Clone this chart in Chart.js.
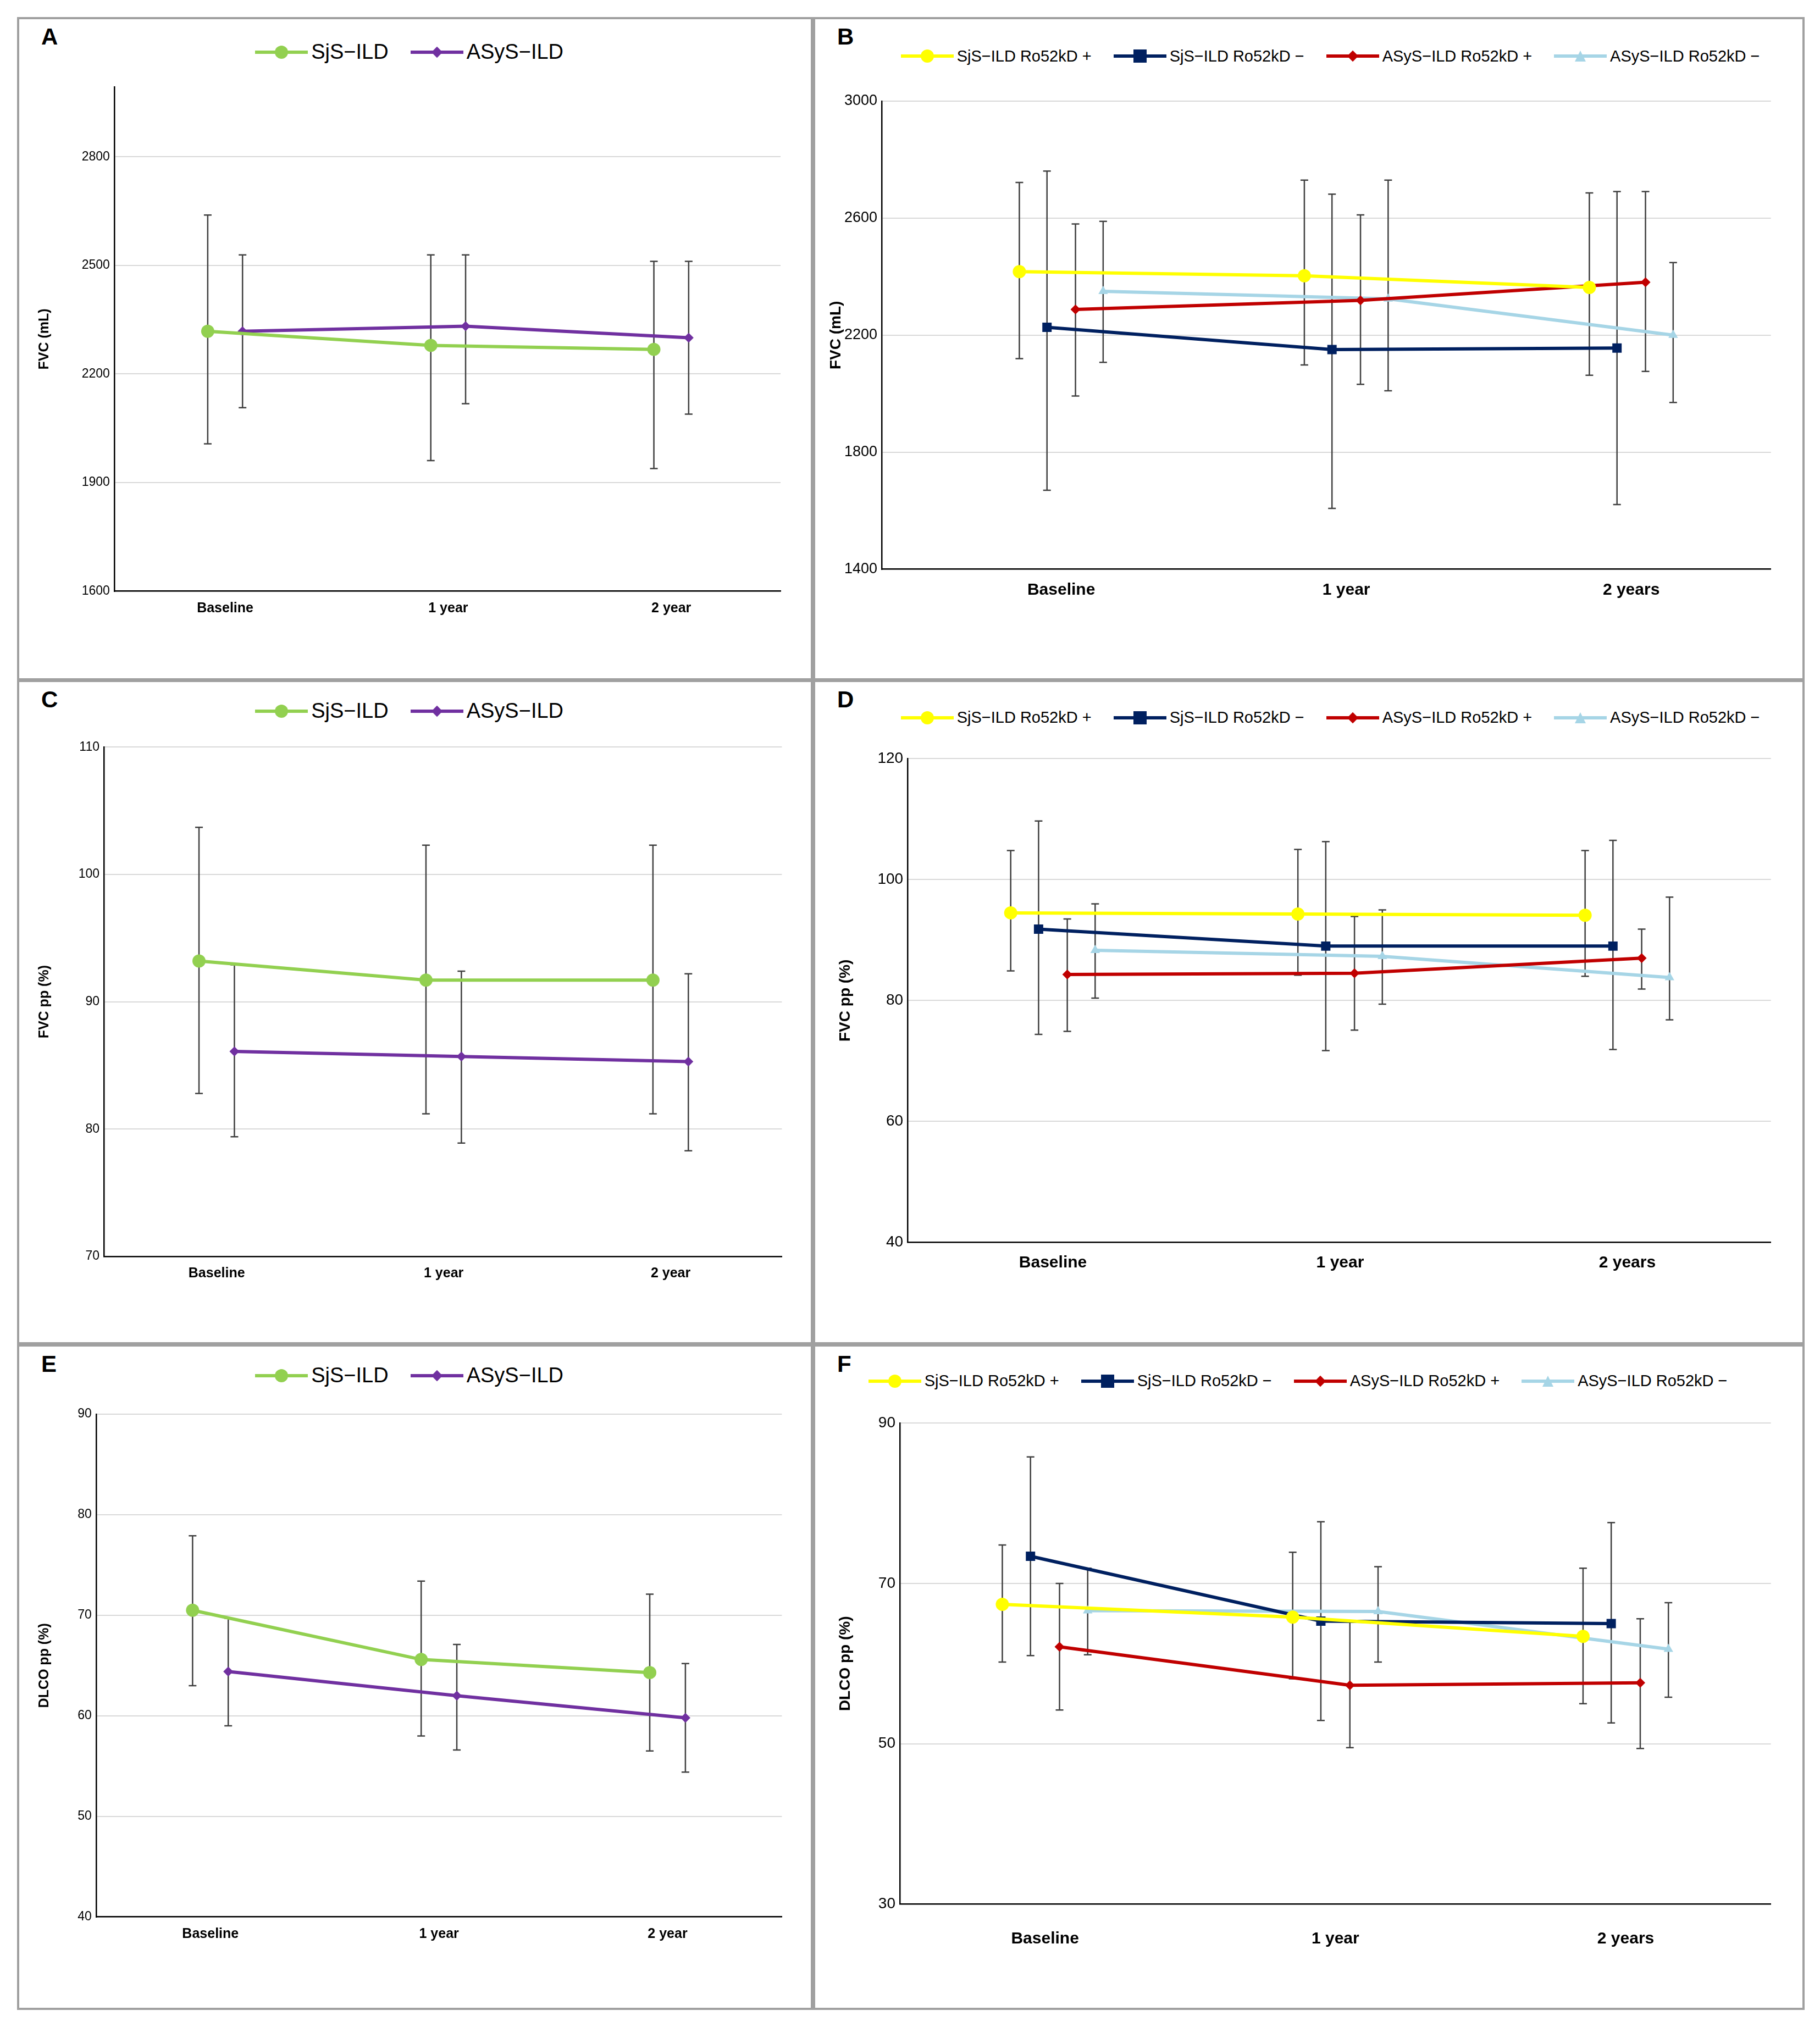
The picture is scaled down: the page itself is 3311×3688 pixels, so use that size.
<!DOCTYPE html>
<html><head><meta charset="utf-8">
<script src="https://cdn.jsdelivr.net/npm/chart.js@4.4.1/dist/chart.umd.min.js"></script>
<style>
body{margin:0;background:#fff;width:3311px;height:3688px;position:relative;overflow:hidden;font-family:"Liberation Sans",Arial,sans-serif}
.panel{position:absolute;border:4px solid #a0a0a0;box-sizing:border-box}
.panel canvas{position:absolute;left:0;top:0}
.letter{position:absolute;font-weight:bold;font-size:42px;color:#000}
.legend{position:absolute;display:flex;align-items:center;white-space:nowrap}
.item{display:flex;align-items:center;margin-right:40px}
.sw{position:relative;width:96px;height:8px;margin-right:6px}
.sw .ln{position:absolute;left:0;right:0;top:1px;height:6px}
.sw .mk{position:absolute;left:50%;top:50%}
</style></head><body>
<script>
// ---- data ----
const categories2 = ['Baseline', '1 year', '2 year'];
const categories4 = ['Baseline', '1 year', '2 years'];

// A: FVC (mL)
const A_sjs = [2318, 2279, 2268], A_sjs_lo = [2007, 1961, 1939], A_sjs_hi = [2639, 2529, 2511];
const A_asys = [2318, 2332, 2300], A_asys_lo = [2107, 2118, 2089], A_asys_hi = [2529, 2529, 2511];
const A_ticks = [1600, 1900, 2200, 2500, 2800];

// B: FVC (mL) by Ro52kD
const B_sjsP = [2417, 2403, 2363], B_sjsP_lo = [2120, 2098, 2063], B_sjsP_hi = [2722, 2730, 2686];
const B_sjsN = [2227, 2151, 2156], B_sjsN_lo = [1670, 1608, 1621], B_sjsN_hi = [2761, 2682, 2691];
const B_asysP = [2288, 2319, 2381], B_asysP_lo = [1992, 2032, 2076], B_asysP_hi = [2580, 2611, 2691];
const B_asysN = [2350, 2324, 2200], B_asysN_lo = [2107, 2010, 1970], B_asysN_hi = [2589, 2730, 2448];
const B_ticks = [1400, 1800, 2200, 2600, 3000];

// C: FVC pp (%)
const C_sjs = [93.2, 91.7, 91.7], C_sjs_lo = [82.8, 81.2, 81.2], C_sjs_hi = [103.7, 102.3, 102.3];
const C_asys = [86.1, 85.7, 85.3], C_asys_lo = [79.4, 78.9, 78.3], C_asys_hi = [92.9, 92.4, 92.2];
const C_ticks = [70, 80, 90, 100, 110];

// D: FVC pp (%) by Ro52kD
const D_sjsP = [94.5, 94.3, 94.1], D_sjsP_lo = [84.9, 84.2, 84.0], D_sjsP_hi = [104.8, 105.0, 104.8];
const D_sjsN = [91.8, 89.0, 89.0], D_sjsN_lo = [74.4, 71.7, 71.9], D_sjsN_hi = [109.7, 106.3, 106.5];
const D_asysP = [84.3, 84.5, 87.0], D_asysP_lo = [74.9, 75.1, 81.9], D_asysP_hi = [93.5, 93.9, 91.8];
const D_asysN = [88.3, 87.3, 83.8], D_asysN_lo = [80.4, 79.4, 76.8], D_asysN_hi = [96.0, 95.0, 97.1];
const D_ticks = [40, 60, 80, 100, 120];

// E: DLCO pp (%)
const E_sjs = [70.5, 65.6, 64.3], E_sjs_lo = [63.0, 58.0, 56.5], E_sjs_hi = [77.9, 73.4, 72.1];
const E_asys = [64.4, 62.0, 59.8], E_asys_lo = [59.0, 56.6, 54.4], E_asys_hi = [69.7, 67.1, 65.2];
const E_ticks = [40, 50, 60, 70, 80, 90];

// F: DLCO pp (%) by Ro52kD
const F_sjsP = [67.4, 65.8, 63.4], F_sjsP_lo = [60.2, 58.1, 55.0], F_sjsP_hi = [74.8, 73.9, 71.9];
const F_sjsN = [73.4, 65.3, 65.0], F_sjsN_lo = [61.0, 52.9, 52.6], F_sjsN_hi = [85.8, 77.7, 77.6];
const F_asysP = [62.1, 57.3, 57.6], F_asysP_lo = [54.2, 49.5, 49.4], F_asysP_hi = [70.0, 65.2, 65.6];
const F_asysN = [66.6, 66.5, 61.8], F_asysN_lo = [61.1, 60.2, 55.8], F_asysN_hi = [71.9, 72.1, 67.6];
const F_ticks = [30, 50, 70, 90];

const SX = 3311 / 1404, SY = 3688 / 1568;
const FONT = '"Liberation Sans Narrow","Liberation Sans",Arial,sans-serif';

const styles = {
  sjs: { label: 'SjS\u2212ILD', color: '#92d050', point: 'circle', r: 12 },
  asys: { label: 'ASyS\u2212ILD', color: '#7030a0', point: 'rectRot', r: 9 },
  sjsP: { label: 'SjS\u2212ILD Ro52kD +', color: '#ffff00', point: 'circle', r: 12 },
  sjsN: { label: 'SjS\u2212ILD Ro52kD \u2212', color: '#002060', point: 'rect', r: 12 },
  asysP: { label: 'ASyS\u2212ILD Ro52kD +', color: '#c00000', point: 'rectRot', r: 9 },
  asysN: { label: 'ASyS\u2212ILD Ro52kD \u2212', color: '#a6d5e6', point: 'triangle', r: 10 }
};

const errorBars = {
  id: 'errorBars',
  beforeDatasetsDraw(chart) {
    const ctx = chart.ctx, ys = chart.scales.y, xs = chart.scales.x;
    ctx.save();
    ctx.strokeStyle = '#404040';
    ctx.lineWidth = 2.5;
    chart.data.datasets.forEach(ds => {
      ds.data.forEach((p, i) => {
        const x = xs.getPixelForValue(p.x);
        const top = ys.getPixelForValue(ds.hi[i]), bot = ys.getPixelForValue(ds.lo[i]);
        ctx.beginPath();
        ctx.moveTo(x, top); ctx.lineTo(x, bot);
        ctx.moveTo(x - 7, top); ctx.lineTo(x + 7, top);
        ctx.moveTo(x - 7, bot); ctx.lineTo(x + 7, bot);
        ctx.stroke();
      });
    });
    ctx.restore();
  }
};

function makeLegend(parent, keys, lx, ly, fontSize, panelL, panelT) {
  const lg = document.createElement('div');
  lg.className = 'legend';
  lg.style.left = ((lx - panelL) * SX) + 'px';
  lg.style.top = ((ly - panelT) * SY - fontSize * 0.6) + 'px';
  lg.style.fontSize = fontSize + 'px';
  keys.forEach(k => {
    const s = styles[k];
    const it = document.createElement('div'); it.className = 'item';
    const sw = document.createElement('div'); sw.className = 'sw';
    const ln = document.createElement('div'); ln.className = 'ln'; ln.style.background = s.color;
    const mk = document.createElement('div'); mk.className = 'mk';
    let d = s.r * 2;
    if (s.point === 'triangle') {
      mk.style.cssText += `width:0;height:0;border-left:${s.r}px solid transparent;border-right:${s.r}px solid transparent;border-bottom:${d}px solid ${s.color};transform:translate(-50%,-50%)`;
    } else {
      mk.style.width = mk.style.height = d + 'px';
      mk.style.background = s.color;
      if (s.point === 'circle') mk.style.borderRadius = '50%';
      mk.style.transform = 'translate(-50%,-50%)' + (s.point === 'rectRot' ? ' rotate(45deg) scale(0.8)' : '');
    }
    sw.appendChild(ln); sw.appendChild(mk);
    const tx = document.createElement('span'); tx.textContent = s.label;
    it.appendChild(sw); it.appendChild(tx);
    lg.appendChild(it);
  });
  parent.appendChild(lg);
}

function makePanel(p) {
  const [pl, pt, pr, pb] = p.panel;
  const W = Math.round((pr - pl) * SX), H = Math.round((pb - pt) * SY);
  const div = document.createElement('div');
  div.className = 'panel';
  div.style.left = Math.round(pl * SX) + 'px';
  div.style.top = Math.round(pt * SY) + 'px';
  div.style.width = W + 'px'; div.style.height = H + 'px';
  document.body.appendChild(div);
  const letter = document.createElement('div');
  letter.className = 'letter'; letter.textContent = p.letter;
  letter.style.left = '40px'; letter.style.top = '8px';
  div.appendChild(letter);
  makeLegend(div, p.keys, p.legend[0], p.legend[1], p.legendFont, pl, pt);

  const cw = W - 8, ch = H - 8;
  const cv = document.createElement('canvas');
  cv.width = cw; cv.height = ch;
  cv.style.width = cw + 'px'; cv.style.height = ch + 'px';
  div.appendChild(cv);

  const [l, t, r, b] = p.box;
  const yW = p.yW * SX, xH = p.xH * SY;
  const datasets = p.keys.map((k, j) => {
    const s = styles[k];
    const off = p.offsets[j];
    return {
      label: s.label,
      data: p.series[j].map((v, i) => ({ x: i + off, y: v })),
      lo: p.lo[j], hi: p.hi[j],
      borderColor: s.color, backgroundColor: s.color,
      borderWidth: 6, pointStyle: s.point, pointRadius: s.r,
      pointBorderWidth: 0, tension: 0
    };
  });

  new Chart(cv, {
    type: 'line',
    data: { datasets },
    plugins: [errorBars],
    options: {
      responsive: false, animation: false,
      layout: { padding: {
        left: (l - pl) * SX - yW - 4, top: (t - pt) * SY - 4,
        right: (pr - r) * SX - 4, bottom: (pb - b) * SY - xH - 4 } },
      plugins: { legend: { display: false }, tooltip: { enabled: false } },
      scales: {
        x: {
          type: 'linear', min: p.xRange[0], max: p.xRange[1],
          afterBuildTicks: ax => { ax.ticks = p.cats.map((c, i) => ({ value: i })); },
          afterFit: ax => { ax.height = xH; },
          ticks: { callback: (v) => p.cats[Math.round(v)], autoSkip: false, maxRotation: 0,
                   padding: p.xPad, color: '#000', font: { family: FONT, size: p.xFont, weight: 'bold' } },
          grid: { display: false },
          border: { color: '#000', width: 2.5 }
        },
        y: {
          min: p.yTicks[0], max: p.yMax,
          afterBuildTicks: ax => { ax.ticks = p.yTicks.map(v => ({ value: v })); },
          afterFit: ax => { ax.width = yW; },
          ticks: { color: '#000', padding: 8, callback: v => String(v), font: { family: FONT, size: p.yFont } },
          grid: { color: '#d9d9d9', lineWidth: 2, drawTicks: false },
          border: { color: '#000', width: 2.5 },
          title: { display: true, text: p.yTitle, color: '#000', padding: 0,
                   font: { family: FONT, size: p.titleFont, weight: 'bold' } }
        }
      }
    }
  });
}

const off2 = [-0.078, 0.078], off4 = [-0.147, -0.05, 0.05, 0.147];
const k2 = ['sjs', 'asys'], k4 = ['sjsP', 'sjsN', 'asysP', 'asysN'];

makePanel({ letter: 'A', panel: [13, 13, 627, 526], box: [88, 67, 602, 457], yW: 60, xH: 30, xPad: 8,
  xRange: [-0.497, 2.49], cats: categories2, yTicks: A_ticks, yMax: 2993, yTitle: 'FVC (mL)',
  keys: k2, offsets: off2, series: [A_sjs, A_asys], lo: [A_sjs_lo, A_asys_lo], hi: [A_sjs_hi, A_asys_hi],
  legend: [195, 39], legendFont: 38, xFont: 25, yFont: 23, titleFont: 25 });
makePanel({ letter: 'B', panel: [627, 13, 1392, 526], box: [680, 78, 1366, 440], yW: 42, xH: 40, xPad: 12,
  xRange: [-0.63, 2.49], cats: categories4, yTicks: B_ticks, yMax: 3000, yTitle: 'FVC (mL)',
  keys: k4, offsets: off4, series: [B_sjsP, B_sjsN, B_asysP, B_asysN],
  lo: [B_sjsP_lo, B_sjsN_lo, B_asysP_lo, B_asysN_lo], hi: [B_sjsP_hi, B_sjsN_hi, B_asysP_hi, B_asysN_hi],
  legend: [693, 42], legendFont: 29, xFont: 30, yFont: 27, titleFont: 28 });
makePanel({ letter: 'C', panel: [13, 526, 627, 1040], box: [80, 578, 603, 972], yW: 52, xH: 30, xPad: 8,
  xRange: [-0.497, 2.49], cats: categories2, yTicks: C_ticks, yMax: 110, yTitle: 'FVC pp (%)',
  keys: k2, offsets: off2, series: [C_sjs, C_asys], lo: [C_sjs_lo, C_asys_lo], hi: [C_sjs_hi, C_asys_hi],
  legend: [195, 549], legendFont: 38, xFont: 25, yFont: 23, titleFont: 25 });
makePanel({ letter: 'D', panel: [627, 526, 1392, 1040], box: [700, 587, 1366, 961], yW: 55, xH: 40, xPad: 12,
  xRange: [-0.506, 2.5], cats: categories4, yTicks: D_ticks, yMax: 120, yTitle: 'FVC pp (%)',
  keys: k4, offsets: off4, series: [D_sjsP, D_sjsN, D_asysP, D_asysN],
  lo: [D_sjsP_lo, D_sjsN_lo, D_asysP_lo, D_asysN_lo], hi: [D_sjsP_hi, D_sjsN_hi, D_asysP_hi, D_asysN_hi],
  legend: [693, 554], legendFont: 29, xFont: 30, yFont: 28, titleFont: 28 });
makePanel({ letter: 'E', panel: [13, 1040, 627, 1555], box: [74, 1094, 603, 1483], yW: 46, xH: 30, xPad: 8,
  xRange: [-0.5, 2.5], cats: categories2, yTicks: E_ticks, yMax: 90, yTitle: 'DLCO pp (%)',
  keys: k2, offsets: off2, series: [E_sjs, E_asys], lo: [E_sjs_lo, E_asys_lo], hi: [E_sjs_hi, E_asys_hi],
  legend: [195, 1063], legendFont: 38, xFont: 25, yFont: 23, titleFont: 25 });
makePanel({ letter: 'F', panel: [627, 1040, 1392, 1555], box: [694, 1101, 1366, 1473], yW: 49, xH: 65, xPad: 38,
  xRange: [-0.5, 2.5], cats: categories4, yTicks: F_ticks, yMax: 90, yTitle: 'DLCO pp (%)',
  keys: k4, offsets: off4, series: [F_sjsP, F_sjsN, F_asysP, F_asysN],
  lo: [F_sjsP_lo, F_sjsN_lo, F_asysP_lo, F_asysN_lo], hi: [F_sjsP_hi, F_sjsN_hi, F_asysP_hi, F_asysN_hi],
  legend: [668, 1067], legendFont: 29, xFont: 30, yFont: 28, titleFont: 28 });
</script>
</body></html>
